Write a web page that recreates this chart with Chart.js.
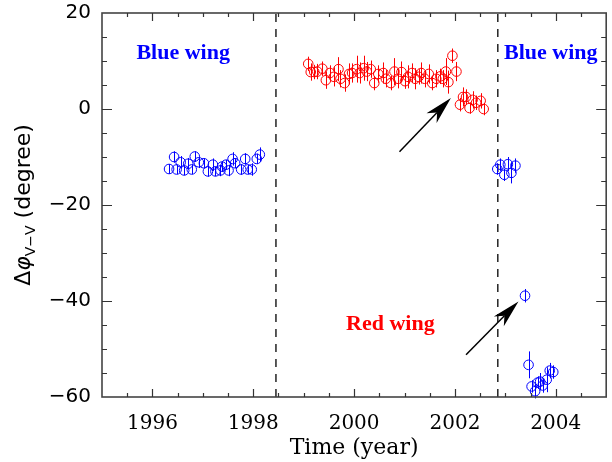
<!DOCTYPE html>
<html><head><meta charset="utf-8">
<script src="https://cdn.jsdelivr.net/npm/chart.js@4/dist/chart.umd.min.js"></script>
<style>html,body{margin:0;padding:0;background:#fff}#wrap{width:612px;height:462px}</style>
</head><body><div id="wrap"><canvas id="c" width="612" height="462"></canvas></div>
<script>
// ---- data ----
const blue1Years = [1996.33,1996.43,1996.48,1996.56,1996.63,1996.71,1996.78,1996.84,1996.92,1997.02,1997.10,1997.20,1997.25,1997.35,1997.38,1997.46,1997.51,1997.59,1997.64,1997.76,1997.84,1997.89,1997.97,1998.07,1998.13];
const blue1Phase = [-12.5,-10.0,-12.6,-11.1,-12.8,-11.4,-12.6,-9.9,-11.1,-11.3,-13.0,-11.6,-13.0,-12.8,-12.0,-11.6,-12.8,-10.4,-11.3,-12.6,-10.4,-12.6,-12.6,-10.4,-9.5];
const blue1Err   = [1.0,1.2,1.0,1.3,1.0,1.2,1.0,1.1,1.2,1.0,1.1,1.3,1.0,1.2,1.1,1.0,1.2,1.4,1.0,1.1,1.2,1.0,1.3,1.1,1.5];

const redYears = [1999.09,1999.14,1999.21,1999.27,1999.37,1999.44,1999.52,1999.60,1999.69,1999.73,1999.81,1999.90,1999.96,2000.05,2000.11,2000.19,2000.25,2000.33,2000.40,2000.48,2000.58,2000.63,2000.73,2000.80,2000.87,2000.94,2001.01,2001.07,2001.15,2001.21,2001.28,2001.33,2001.40,2001.48,2001.55,2001.63,2001.71,2001.76,2001.82,2001.87,2001.95,2002.03,2002.10,2002.16,2002.22,2002.29,2002.35,2002.42,2002.51,2002.57];
const redPhase = [9.4,7.7,7.7,7.8,8.4,6.0,7.5,6.7,8.3,6.3,5.4,7.3,7.5,8.3,7.5,8.5,7.8,8.3,5.4,7.3,7.5,6.3,5.4,7.8,6.3,7.7,5.8,6.7,7.5,6.3,6.7,7.5,6.3,7.3,5.4,6.3,6.8,6.3,7.8,5.6,11.1,7.8,0.9,2.5,2.5,0.2,1.9,1.3,1.7,0.0];
const redErr   = [1.5,1.8,1.5,1.6,1.5,1.8,1.6,2.0,2.5,1.8,1.8,2.2,2.0,2.8,2.2,2.6,2.0,1.8,1.5,1.8,2.2,1.8,1.5,2.8,2.0,2.2,1.6,2.4,2.0,2.2,1.6,2.2,1.8,2.0,1.5,1.8,1.6,1.8,2.8,2.4,1.5,2.0,1.4,2.0,1.6,1.2,1.8,1.5,1.6,1.3];

const blue2Years = [2002.84,2002.90,2002.98,2003.05,2003.12,2003.20,2003.39,2003.46,2003.52,2003.59,2003.64,2003.69,2003.74,2003.82,2003.88,2003.95];
const blue2Phase = [-12.5,-11.6,-13.7,-11.5,-13.3,-11.8,-38.9,-53.3,-57.8,-58.8,-57.0,-56.8,-57.6,-56.4,-54.5,-54.8];
const blue2Err   = [1.2,1.3,1.3,1.5,2.2,1.5,1.4,2.8,1.3,1.5,1.3,1.8,1.5,2.6,1.6,1.4];

const xTickLabels = [1996, 1998, 2000, 2002, 2004];
const yTickLabels = [-60, -40, -20, 0, 20];
const boundaryYears = [1998.45, 2002.85];

const wingLabels = ['Blue wing', 'Red wing', 'Blue wing'];
const wingColors = ['#0000ff', '#ff0000', '#0000ff'];
const wingAnchors = [[1996.61, 10.4], [2000.72, -46.0], [2003.90, 10.4]];
const arrows = [[[2000.90, -8.9], [2001.92, 2.3]], [[2002.22, -51.2], [2003.26, -40.1]]];

// ---- build ----
const pts = (xs, ys) => xs.map((x, i) => ({x, y: ys[i]}));
const scatterDs = (xs, ys, errs, color) => ({
  type: 'scatter', data: pts(xs, ys), errs,
  pointStyle: 'circle', pointRadius: 4.8, pointHoverRadius: 4.8,
  borderColor: color, backgroundColor: 'rgba(0,0,0,0)', borderWidth: 1, showLine: false
});
const vline = (x) => ({
  type: 'line', data: [{x, y: -60}, {x, y: 20}], borderColor: '#222', borderWidth: 1.5,
  borderDash: [8, 7], pointRadius: 0, fill: false
});

const errorBars = {
  id: 'errorBars',
  afterDatasetsDraw(chart) {
    const {ctx, scales: {x, y}} = chart;
    chart.data.datasets.forEach(ds => {
      if (!ds.errs) return;
      ctx.save(); ctx.strokeStyle = ds.borderColor; ctx.lineWidth = 1;
      ds.data.forEach((p, i) => {
        const px = Math.round(x.getPixelForValue(p.x)) + 0.5;
        ctx.beginPath();
        ctx.moveTo(px, y.getPixelForValue(p.y - ds.errs[i]));
        ctx.lineTo(px, y.getPixelForValue(p.y + ds.errs[i]));
        ctx.stroke();
      });
      ctx.restore();
    });
  }
};

const decorations = {
  id: 'decorations',
  afterDraw(chart) {
    const {ctx, chartArea: a, scales: {x, y}} = chart;
    ctx.save();
    // frame
    ctx.strokeStyle = '#444'; ctx.lineWidth = 1.6;
    ctx.strokeRect(a.left, a.top, a.right - a.left, a.bottom - a.top);
    // ticks (inward on all four sides)
    ctx.lineWidth = 1.2; ctx.strokeStyle = '#333';
    ctx.beginPath();
    for (let v = 1995.5; v < 2005; v += 0.5) {
      const major = Math.abs(v % 2) < 1e-6;
      const px = Math.round(x.getPixelForValue(v)) + 0.5, L = major ? 8 : 4;
      ctx.moveTo(px, a.bottom); ctx.lineTo(px, a.bottom - L);
      ctx.moveTo(px, a.top); ctx.lineTo(px, a.top + L);
    }
    for (let v = -55; v < 20; v += 5) {
      const major = v % 20 === 0;
      const py = Math.round(y.getPixelForValue(v)) + 0.5, L = major ? 10 : 5;
      ctx.moveTo(a.left, py); ctx.lineTo(a.left + L, py);
      ctx.moveTo(a.right, py); ctx.lineTo(a.right - L, py);
    }
    ctx.stroke();

    // wing labels
    ctx.font = 'bold 22px "Liberation Serif", "Times New Roman", serif';
    ctx.textAlign = 'center'; ctx.textBaseline = 'alphabetic';
    wingLabels.forEach((t, i) => {
      ctx.fillStyle = wingColors[i];
      ctx.fillText(t, x.getPixelForValue(wingAnchors[i][0]), y.getPixelForValue(wingAnchors[i][1]));
    });

    // arrows
    ctx.strokeStyle = '#000'; ctx.fillStyle = '#000'; ctx.lineWidth = 1.5;
    arrows.forEach(([from, to]) => {
      const x0 = x.getPixelForValue(from[0]), y0 = y.getPixelForValue(from[1]);
      const x1 = x.getPixelForValue(to[0]), y1 = y.getPixelForValue(to[1]);
      const ang = Math.atan2(y1 - y0, x1 - x0);
      const len = 28, hw = 7, notch = 20;
      const ux = Math.cos(ang), uy = Math.sin(ang), nx = -uy, ny = ux;
      ctx.beginPath(); ctx.moveTo(x0, y0); ctx.lineTo(x1 - ux * notch, y1 - uy * notch); ctx.stroke();
      ctx.beginPath();
      ctx.moveTo(x1, y1);
      ctx.lineTo(x1 - ux * len + nx * hw, y1 - uy * len + ny * hw);
      ctx.lineTo(x1 - ux * notch, y1 - uy * notch);
      ctx.lineTo(x1 - ux * len - nx * hw, y1 - uy * len - ny * hw);
      ctx.closePath(); ctx.fill();
    });

    // y-axis title with subscript
    ctx.translate(30, (a.top + a.bottom) / 2);
    ctx.rotate(-Math.PI / 2);
    ctx.fillStyle = '#000'; ctx.textAlign = 'left'; ctx.textBaseline = 'alphabetic';
    const f1 = '22px "DejaVu Sans", sans-serif', fi = 'italic 22px "DejaVu Sans", sans-serif', f2 = '14px "DejaVu Sans", sans-serif';
    const parts = [['\u0394', f1, 0], ['\u03C6', fi, 0], ['V\u2212V', f2, 5], [' (degree)', f1, 0]];
    let total = 0;
    parts.forEach(p => { ctx.font = p[1]; total += ctx.measureText(p[0]).width; });
    let cx = -total / 2;
    parts.forEach(p => { ctx.font = p[1]; ctx.fillText(p[0], cx, p[2]); cx += ctx.measureText(p[0]).width; });
    ctx.restore();
  }
};

new Chart(document.getElementById('c'), {
  data: {
    datasets: [
      vline(boundaryYears[0]), vline(boundaryYears[1]),
      scatterDs(blue1Years, blue1Phase, blue1Err, '#0000ff'),
      scatterDs(redYears, redPhase, redErr, '#ff0000'),
      scatterDs(blue2Years, blue2Phase, blue2Err, '#0000ff')
    ]
  },
  options: {
    responsive: false, animation: false, devicePixelRatio: 1,
    layout: {padding: {top: 13, right: 2, left: 0, bottom: 0}},
    plugins: {legend: {display: false}, tooltip: {enabled: false}},
    scales: {
      x: {
        type: 'linear', min: 1995, max: 2005,
        afterBuildTicks: s => { s.ticks = xTickLabels.map(v => ({value: v})); },
        afterFit: s => { s.height = 65; s.paddingLeft = 0; s.paddingRight = 0; },
        grid: {display: false, drawTicks: false}, border: {display: false},
        ticks: {color: '#000', padding: 15, maxRotation: 0, autoSkip: false,
                font: {family: '"DejaVu Serif", serif', size: 20}, callback: v => String(v)},
        title: {display: true, text: 'Time (year)', color: '#000',
                font: {family: '"DejaVu Serif", serif', size: 22}, padding: {top: 0, bottom: 1}}
      },
      y: {
        type: 'linear', min: -60, max: 20,
        afterBuildTicks: s => { s.ticks = yTickLabels.map(v => ({value: v})); },
        afterFit: s => { s.width = 102; s.paddingTop = 0; s.paddingBottom = 0; },
        grid: {display: false, drawTicks: false}, border: {display: false},
        ticks: {color: '#000', padding: 11, autoSkip: false,
                font: {family: '"DejaVu Sans", sans-serif', size: 20},
                callback: v => v < 0 ? '\u2212' + Math.abs(v) : String(v)}
      }
    }
  },
  plugins: [errorBars, decorations]
});
</script></body></html>
